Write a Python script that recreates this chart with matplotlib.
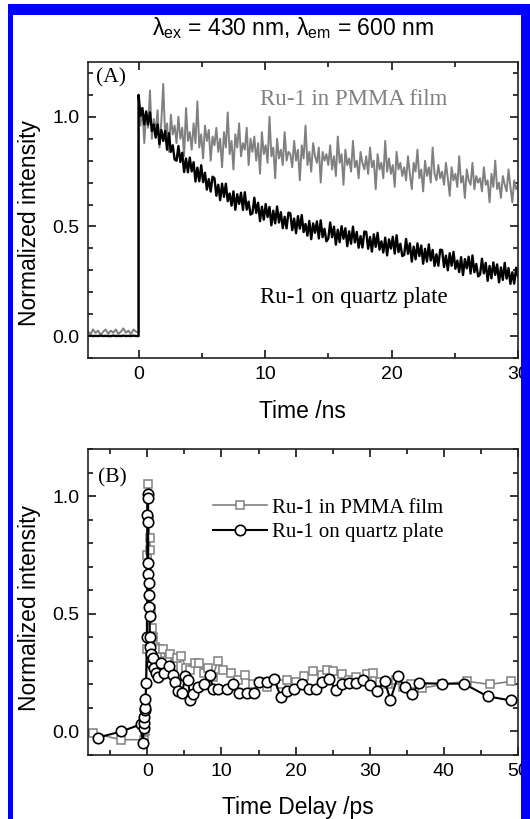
import numpy as np
import matplotlib
matplotlib.use('Agg')
import matplotlib.pyplot as plt
from matplotlib.patches import Rectangle
from matplotlib.ticker import MultipleLocator

plt.rcParams['font.family'] = ['Liberation Sans', 'DejaVu Sans']
plt.rcParams['mathtext.fontset'] = 'custom'
plt.rcParams['mathtext.rm'] = 'Liberation Sans'
plt.rcParams['mathtext.it'] = 'Liberation Sans'
plt.rcParams['path.simplify'] = False

# ---- (A) emission decay, Time /ns ----
pre_start, pre_step = -4.0, 0.2
decay_step = 0.15

gray_pre = [0.02, 0.01, 0.03, 0.015, 0.025, 0.005, 0.02, 0.03, 0.01, 0.025, 0.015,
            0.03, 0.01, 0.02, 0.035, 0.015, 0.025, 0.01, 0.03, 0.02, 0.015]
black_pre = [0.0, 0.002, 0.0, 0.001, 0.0, 0.002, 0.0, 0.001, 0.0, 0.0, 0.002,
             0.0, 0.001, 0.0, 0.002, 0.0, 0.001, 0.0, 0.002, 0.0, 0.0]

# PMMA film trace, 0 .. 30 ns
gray_decay = [
    1.08, 0.96, 1.04, 0.88, 1.02, 0.95, 1.12, 0.90, 0.99, 0.93, 1.03, 0.86, 0.98, 1.15, 0.91, 0.97, 0.84, 1.01, 0.92, 0.96,
    0.88, 1.00, 0.90, 0.95, 0.82, 1.04, 0.89, 0.93, 0.85, 0.97, 0.88, 1.07, 0.86, 0.92, 0.81, 0.96, 0.89, 0.94, 0.80, 0.91,
    0.87, 0.95, 0.84, 0.90, 0.77, 0.93, 0.86, 1.02, 0.83, 0.89, 0.76, 0.92, 0.86, 0.97, 0.82, 0.88, 0.85, 0.95, 0.78, 0.90,
    0.84, 0.91, 0.80, 0.88, 0.74, 0.93, 0.83, 0.87, 0.79, 1.00, 0.82, 0.86, 0.72, 0.90, 0.81, 0.85, 0.78, 0.93, 0.80, 0.84,
    0.83, 0.77, 0.89, 0.80, 0.85, 0.71, 0.87, 0.81, 0.96, 0.78, 0.84, 0.75, 0.88, 0.82, 0.79, 0.86, 0.70, 0.84, 0.80, 0.83,
    0.78, 0.87, 0.76, 0.82, 0.73, 0.91, 0.79, 0.83, 0.69, 0.85, 0.78, 0.81, 0.75, 0.89, 0.77, 0.80, 0.72, 0.84, 0.79, 0.76,
    0.82, 0.74, 0.86, 0.77, 0.80, 0.67, 0.83, 0.76, 0.79, 0.72, 0.89, 0.75, 0.81, 0.74, 0.78, 0.68, 0.84, 0.76, 0.79, 0.73,
    0.77, 0.71, 0.82, 0.74, 0.67, 0.79, 0.75, 0.85, 0.72, 0.76, 0.66, 0.80, 0.73, 0.77, 0.70, 0.86, 0.74, 0.71, 0.78, 0.72,
    0.75, 0.69, 0.79, 0.72, 0.64, 0.77, 0.71, 0.74, 0.68, 0.82, 0.70, 0.73, 0.63, 0.76, 0.71, 0.69, 0.79, 0.67, 0.73, 0.70,
    0.72, 0.66, 0.77, 0.69, 0.71, 0.61, 0.74, 0.68, 0.80, 0.67, 0.70, 0.63, 0.73, 0.69, 0.66, 0.76, 0.68, 0.61, 0.71, 0.67,
    0.69]

# quartz plate trace, 0 .. 30 ns
black_decay = [
    1.100, 1.005, 1.040, 0.965, 1.025, 0.965, 1.020, 0.935, 0.965, 0.905, 0.965, 0.875, 0.940, 0.890, 0.935, 0.850, 0.925, 0.840, 0.870, 0.805,
    0.800, 0.867, 0.794, 0.836, 0.748, 0.810, 0.747, 0.814, 0.751, 0.793, 0.705, 0.768, 0.706, 0.779, 0.702, 0.745, 0.668, 0.716, 0.659, 0.727,
    0.720, 0.640, 0.690, 0.620, 0.695, 0.635, 0.695, 0.615, 0.650, 0.595, 0.660, 0.576, 0.647, 0.603, 0.654, 0.575, 0.656, 0.577, 0.613, 0.554,
    0.560, 0.631, 0.562, 0.608, 0.524, 0.590, 0.531, 0.602, 0.543, 0.589, 0.505, 0.572, 0.514, 0.591, 0.518, 0.565, 0.492, 0.544, 0.491, 0.563,
    0.560, 0.483, 0.536, 0.469, 0.547, 0.490, 0.552, 0.474, 0.511, 0.458, 0.525, 0.442, 0.514, 0.471, 0.523, 0.445, 0.528, 0.451, 0.489, 0.432,
    0.445, 0.518, 0.451, 0.499, 0.417, 0.485, 0.428, 0.501, 0.444, 0.492, 0.410, 0.478, 0.421, 0.499, 0.427, 0.475, 0.403, 0.456, 0.404, 0.477,
    0.475, 0.398, 0.452, 0.385, 0.464, 0.407, 0.471, 0.394, 0.432, 0.381, 0.449, 0.368, 0.441, 0.399, 0.453, 0.376, 0.460, 0.383, 0.421, 0.365,
    0.370, 0.443, 0.375, 0.423, 0.340, 0.408, 0.350, 0.423, 0.365, 0.413, 0.330, 0.398, 0.340, 0.418, 0.345, 0.393, 0.320, 0.373, 0.321, 0.394,
    0.392, 0.315, 0.367, 0.300, 0.378, 0.321, 0.384, 0.307, 0.344, 0.292, 0.360, 0.278, 0.351, 0.309, 0.362, 0.285, 0.368, 0.291, 0.329, 0.272,
    0.280, 0.353, 0.286, 0.334, 0.252, 0.320, 0.263, 0.336, 0.279, 0.327, 0.245, 0.313, 0.256, 0.334, 0.262, 0.310, 0.238, 0.291, 0.239, 0.312,
    0.270]

# ---- (B) transient absorption kinetics, Time Delay /ps ----
t_pmma = [-7.3, -3.6, -0.5, -0.3, -0.2, -0.1, 0.0, 0.1, 0.2, 0.3, 0.4, 0.5, 0.6, 0.8, 1.0,
          1.3, 1.6, 2.1, 2.6, 3.0, 3.5, 4.0, 4.6, 5.2, 5.8, 6.4, 7.0, 7.6, 8.2, 8.8,
          9.5, 10.2, 11.3, 12.2, 13.2, 14.2, 15.2, 16.2, 17.2, 18.0, 18.9, 20.0, 21.1, 22.4, 23.5,
          24.3, 25.1, 26.2, 27.2, 28.2, 29.6, 30.5, 31.4, 32.4, 33.5, 34.5, 35.6, 37.1, 39.8, 43.1,
          46.2, 49.1]
v_pmma = [-0.007, -0.035, -0.035, 0.0, 0.1, 0.35, 0.75, 1.05, 0.9, 0.82, 0.77, 0.52, 0.44, 0.40, 0.36,
          0.33, 0.35, 0.35, 0.30, 0.33, 0.28, 0.31, 0.32, 0.27, 0.26, 0.29, 0.29, 0.25, 0.27, 0.23,
          0.30, 0.26, 0.25, 0.22, 0.24, 0.20, 0.21, 0.19, 0.22, 0.20, 0.22, 0.21, 0.234, 0.255, 0.24,
          0.26, 0.255, 0.245, 0.22, 0.23, 0.245, 0.25, 0.21, 0.20, 0.22, 0.19, 0.20, 0.184, 0.20, 0.213,
          0.20, 0.213]

t_quartz = [-6.7, -3.5, -0.9, -0.6, -0.5, -0.45, -0.4, -0.35, -0.3, -0.25, -0.15, -0.05, 0.0, 0.03, 0.06,
            0.1, 0.13, 0.16, 0.2, 0.23, 0.26, 0.3, 0.35, 0.4, 0.5, 0.6, 0.75, 0.9, 1.2, 1.5,
            1.8, 2.2, 2.9, 3.4, 3.8, 4.2, 4.7, 5.1, 5.5, 5.8, 6.2, 6.9, 7.7, 8.4, 8.9,
            9.5, 10.7, 11.5, 12.4, 13.4, 14.4, 15.1, 16.2, 17.1, 18.0, 18.9, 19.8, 20.9, 21.8, 22.7,
            23.6, 24.5, 25.4, 26.2, 27.2, 28.2, 29.1, 30.1, 31.0, 32.0, 32.8, 33.8, 34.7, 35.7, 36.7,
            39.7, 42.7, 45.9, 49.0]
v_quartz = [-0.026, 0.0, 0.03, -0.05, 0.015, 0.035, 0.06, 0.09, 0.10, 0.136, 0.205, 0.40, 0.92, 1.01, 0.99,
            0.89, 0.716, 0.67, 0.63, 0.58, 0.53, 0.49, 0.40, 0.36, 0.33, 0.285, 0.31, 0.27, 0.25, 0.23,
            0.29, 0.25, 0.28, 0.24, 0.21, 0.17, 0.163, 0.234, 0.22, 0.135, 0.16, 0.19, 0.20, 0.24, 0.18,
            0.18, 0.18, 0.20, 0.165, 0.165, 0.165, 0.21, 0.21, 0.225, 0.146, 0.17, 0.18, 0.20, 0.18, 0.18,
            0.21, 0.225, 0.177, 0.20, 0.205, 0.205, 0.22, 0.196, 0.173, 0.213, 0.135, 0.234, 0.19, 0.16, 0.205,
            0.203, 0.203, 0.149, 0.132]

gray = '#808080'
W, H = 530, 819
fig = plt.figure(figsize=(W / 100, H / 100), dpi=100)
fig.patch.set_facecolor('white')


def px_axes(x0, y0, x1, y1):
    return fig.add_axes([x0 / W, 1 - y1 / H, (x1 - x0) / W, (y1 - y0) / H])


def style(ax):
    ax.tick_params(which='both', direction='in', top=True, right=True,
                   labelsize=14, width=1.1, pad=6)
    ax.tick_params(which='major', length=6)
    ax.tick_params(which='minor', length=3.5)
    for s in ax.spines.values():
        s.set_linewidth(1.2)
        s.set_color('#222222')


# panel A
axA = px_axes(88, 62, 518, 358)
tA_pre = pre_start + pre_step * np.arange(len(gray_pre))
tA_dec = decay_step * np.arange(len(gray_decay))
axA.plot(np.concatenate([tA_pre, tA_dec]), gray_pre + gray_decay, color=gray, lw=1.4)
axA.plot(np.concatenate([tA_pre, tA_dec]), black_pre + black_decay, color='black', lw=1.7)
axA.set_xlim(-4, 30)
axA.set_ylim(-0.1, 1.25)
axA.xaxis.set_major_locator(MultipleLocator(10))
axA.xaxis.set_minor_locator(MultipleLocator(5))
axA.yaxis.set_major_locator(MultipleLocator(0.5))
axA.yaxis.set_minor_locator(MultipleLocator(0.1))
style(axA)
axA.set_xlabel('Time /ns', fontsize=16.5, va='center')
axA.xaxis.set_label_coords(0.498, -0.182)
axA.set_ylabel('Normalized intensity', fontsize=16.5, va='center')
axA.yaxis.set_label_coords(-0.136, 0.456)
axA.text(0.019, 0.946, '(A)', transform=axA.transAxes, fontsize=15.5,
         family='Liberation Serif', va='center', ha='left')
axA.text(0.40, 0.872, 'Ru-1 in PMMA film', transform=axA.transAxes, fontsize=16.5,
         family='Liberation Serif', color=gray, va='center', ha='left')
axA.text(0.40, 0.203, 'Ru-1 on quartz plate', transform=axA.transAxes, fontsize=16.5,
         family='Liberation Serif', color='black', va='center', ha='left')

# panel B
axB = px_axes(88, 449, 518, 755)
axB.plot(t_pmma, v_pmma, color=gray, lw=1.2, marker='s', ms=6, mfc='white',
         mec=gray, mew=1.1, label='Ru-1 in PMMA film', zorder=2)
axB.plot(t_quartz, v_quartz, color='black', lw=1.5, marker='o', ms=7.5, mfc='white',
         mec='black', mew=1.2, label='Ru-1 on quartz plate', zorder=3)
axB.set_xlim(-8, 50)
axB.set_ylim(-0.1, 1.2)
axB.xaxis.set_major_locator(MultipleLocator(10))
axB.xaxis.set_minor_locator(MultipleLocator(5))
axB.yaxis.set_major_locator(MultipleLocator(0.5))
axB.yaxis.set_minor_locator(MultipleLocator(0.1))
style(axB)
axB.set_xlabel('Time Delay /ps', fontsize=16.5, va='center')
axB.xaxis.set_label_coords(0.488, -0.173)
axB.set_ylabel('Normalized intensity', fontsize=16.5, va='center')
axB.yaxis.set_label_coords(-0.136, 0.482)
axB.text(0.023, 0.905, '(B)', transform=axB.transAxes, fontsize=15.5,
         family='Liberation Serif', va='center', ha='left')
axB.legend(loc='upper left', bbox_to_anchor=(0.29, 0.84), frameon=False,
           prop={'family': 'Liberation Serif', 'size': 15}, handlelength=2.6,
           handletextpad=0.25, borderaxespad=0, borderpad=0, labelspacing=0.25)

fig.text(293 / W, 1 - 28 / H, r'$\mathregular{\lambda_{ex}}$ = 430 nm, $\mathregular{\lambda_{em}}$ = 600 nm',
         fontsize=16.5, ha='center', va='center')

# blue frame
blue = (0, 0, 1)
for x0, y0, x1, y1 in [(8, 4, 13, H), (8, 4, W, 15), (521, 4, W, H)]:
    fig.add_artist(Rectangle((x0 / W, 1 - y1 / H), (x1 - x0) / W, (y1 - y0) / H,
                             transform=fig.transFigure, color=blue, lw=0, zorder=10))

fig.savefig('out.png', dpi=100)
